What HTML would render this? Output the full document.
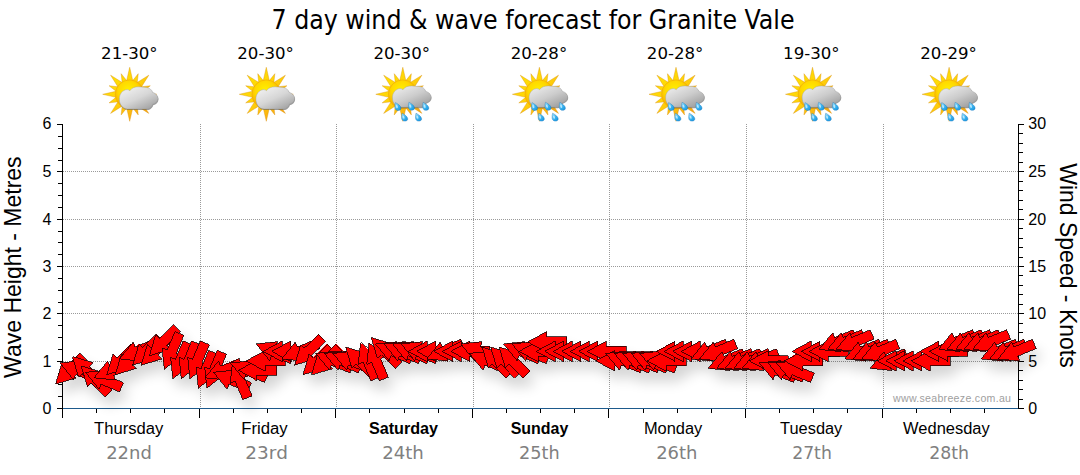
<!DOCTYPE html>
<html><head><meta charset="utf-8"><title>7 day wind &amp; wave forecast for Granite Vale</title>
<style>
html,body{margin:0;padding:0;background:#fff;}
body{width:1080px;height:475px;overflow:hidden;}
svg{display:block}
.ar{font-family:"Liberation Sans",Arial,sans-serif;}
.ta{font-family:"DejaVu Sans Condensed","DejaVu Sans","Liberation Sans",sans-serif;}
.dv{font-family:"DejaVu Sans","Liberation Sans",sans-serif;}
</style></head><body>
<svg width="1080" height="475" viewBox="0 0 1080 475">
<defs>
<filter id="sh" x="-5%" y="-50%" width="110%" height="250%"><feGaussianBlur in="SourceAlpha" stdDeviation="6.5"/><feOffset dx="5" dy="10"/><feComponentTransfer><feFuncA type="linear" slope="0.17"/></feComponentTransfer></filter>
<radialGradient id="sunG" cx="0.45" cy="0.38" r="0.68"><stop offset="0" stop-color="#fff200"/><stop offset="0.5" stop-color="#ffd800"/><stop offset="1" stop-color="#f49a00"/></radialGradient>
<linearGradient id="rayG" x1="0" y1="0" x2="1" y2="1"><stop offset="0" stop-color="#ffe800"/><stop offset="0.45" stop-color="#ffd208"/><stop offset="0.75" stop-color="#fbb010"/><stop offset="1" stop-color="#ef9010"/></linearGradient>
<linearGradient id="clG" x1="0.1" y1="0" x2="0.9" y2="1"><stop offset="0" stop-color="#f4f4f4"/><stop offset="0.5" stop-color="#d6d6d6"/><stop offset="1" stop-color="#9c9c9c"/></linearGradient>
<linearGradient id="clR" x1="0.1" y1="0" x2="0.9" y2="1"><stop offset="0" stop-color="#efefef"/><stop offset="0.5" stop-color="#cccccc"/><stop offset="1" stop-color="#989898"/></linearGradient>
<linearGradient id="drG" x1="0" y1="0" x2="1" y2="1"><stop offset="0" stop-color="#b8edff"/><stop offset="0.5" stop-color="#3cb6f2"/><stop offset="1" stop-color="#1691db"/></linearGradient>
<filter id="b1"><feGaussianBlur stdDeviation="0.6"/></filter>
</defs>
<rect width="1080" height="475" fill="#fff"/>
<text class="ta" x="271.5" y="29" font-size="26.4" textLength="523" lengthAdjust="spacingAndGlyphs" fill="#000">7 day wind &amp; wave forecast for Granite Vale</text>
<text class="dv" x="101.08" y="58.8" font-size="16.3" textLength="56.55" lengthAdjust="spacingAndGlyphs" fill="#000">21-30°</text>
<text class="dv" x="237.27" y="58.8" font-size="16.3" textLength="56.55" lengthAdjust="spacingAndGlyphs" fill="#000">20-30°</text>
<text class="dv" x="373.48" y="58.8" font-size="16.3" textLength="56.55" lengthAdjust="spacingAndGlyphs" fill="#000">20-30°</text>
<text class="dv" x="510.67" y="58.8" font-size="16.3" textLength="56.55" lengthAdjust="spacingAndGlyphs" fill="#000">20-28°</text>
<text class="dv" x="646.88" y="58.8" font-size="16.3" textLength="56.55" lengthAdjust="spacingAndGlyphs" fill="#000">20-28°</text>
<text class="dv" x="783.08" y="58.8" font-size="16.3" textLength="56.57" lengthAdjust="spacingAndGlyphs" fill="#000">19-30°</text>
<text class="dv" x="920.29" y="58.8" font-size="16.3" textLength="56.55" lengthAdjust="spacingAndGlyphs" fill="#000">20-29°</text>
<g shape-rendering="crispEdges">
<line x1="63" x2="1018" y1="361.5" y2="361.5" stroke="#9a9a9a" stroke-width="1" stroke-dasharray="1 1"/>
<line x1="63" x2="1018" y1="313.5" y2="313.5" stroke="#9a9a9a" stroke-width="1" stroke-dasharray="1 1"/>
<line x1="63" x2="1018" y1="266.5" y2="266.5" stroke="#9a9a9a" stroke-width="1" stroke-dasharray="1 1"/>
<line x1="63" x2="1018" y1="219.5" y2="219.5" stroke="#9a9a9a" stroke-width="1" stroke-dasharray="1 1"/>
<line x1="63" x2="1018" y1="171.5" y2="171.5" stroke="#9a9a9a" stroke-width="1" stroke-dasharray="1 1"/>
<line x1="200.5" x2="200.5" y1="124" y2="408" stroke="#9a9a9a" stroke-width="1" stroke-dasharray="1 1"/>
<line x1="336.5" x2="336.5" y1="124" y2="408" stroke="#9a9a9a" stroke-width="1" stroke-dasharray="1 1"/>
<line x1="473.5" x2="473.5" y1="124" y2="408" stroke="#9a9a9a" stroke-width="1" stroke-dasharray="1 1"/>
<line x1="609.5" x2="609.5" y1="124" y2="408" stroke="#9a9a9a" stroke-width="1" stroke-dasharray="1 1"/>
<line x1="746.5" x2="746.5" y1="124" y2="408" stroke="#9a9a9a" stroke-width="1" stroke-dasharray="1 1"/>
<line x1="883.5" x2="883.5" y1="124" y2="408" stroke="#9a9a9a" stroke-width="1" stroke-dasharray="1 1"/>
</g>
<g shape-rendering="crispEdges">
<rect x="62" y="408" width="957" height="1" fill="#1d5a8c"/>
<rect x="62" y="124" width="1" height="294" fill="#000"/>
<rect x="1018" y="124" width="1" height="285" fill="#000"/>
<rect x="57" y="408" width="5" height="1" fill="#000"/>
<rect x="1019" y="408" width="5" height="1" fill="#000"/>
<rect x="57" y="361" width="5" height="1" fill="#000"/>
<rect x="1019" y="361" width="5" height="1" fill="#000"/>
<rect x="57" y="313" width="5" height="1" fill="#000"/>
<rect x="1019" y="313" width="5" height="1" fill="#000"/>
<rect x="57" y="266" width="5" height="1" fill="#000"/>
<rect x="1019" y="266" width="5" height="1" fill="#000"/>
<rect x="57" y="219" width="5" height="1" fill="#000"/>
<rect x="1019" y="219" width="5" height="1" fill="#000"/>
<rect x="57" y="171" width="5" height="1" fill="#000"/>
<rect x="1019" y="171" width="5" height="1" fill="#000"/>
<rect x="57" y="124" width="5" height="1" fill="#000"/>
<rect x="1019" y="124" width="5" height="1" fill="#000"/>
<rect x="58" y="396" width="4" height="1" fill="#000"/>
<rect x="58" y="384" width="4" height="1" fill="#000"/>
<rect x="58" y="373" width="4" height="1" fill="#000"/>
<rect x="58" y="349" width="4" height="1" fill="#000"/>
<rect x="58" y="337" width="4" height="1" fill="#000"/>
<rect x="58" y="325" width="4" height="1" fill="#000"/>
<rect x="58" y="302" width="4" height="1" fill="#000"/>
<rect x="58" y="290" width="4" height="1" fill="#000"/>
<rect x="58" y="278" width="4" height="1" fill="#000"/>
<rect x="58" y="254" width="4" height="1" fill="#000"/>
<rect x="58" y="242" width="4" height="1" fill="#000"/>
<rect x="58" y="231" width="4" height="1" fill="#000"/>
<rect x="58" y="207" width="4" height="1" fill="#000"/>
<rect x="58" y="195" width="4" height="1" fill="#000"/>
<rect x="58" y="183" width="4" height="1" fill="#000"/>
<rect x="58" y="160" width="4" height="1" fill="#000"/>
<rect x="58" y="148" width="4" height="1" fill="#000"/>
<rect x="58" y="136" width="4" height="1" fill="#000"/>
<rect x="1019" y="399" width="4" height="1" fill="#000"/>
<rect x="1019" y="389" width="4" height="1" fill="#000"/>
<rect x="1019" y="380" width="4" height="1" fill="#000"/>
<rect x="1019" y="370" width="4" height="1" fill="#000"/>
<rect x="1019" y="351" width="4" height="1" fill="#000"/>
<rect x="1019" y="342" width="4" height="1" fill="#000"/>
<rect x="1019" y="332" width="4" height="1" fill="#000"/>
<rect x="1019" y="323" width="4" height="1" fill="#000"/>
<rect x="1019" y="304" width="4" height="1" fill="#000"/>
<rect x="1019" y="294" width="4" height="1" fill="#000"/>
<rect x="1019" y="285" width="4" height="1" fill="#000"/>
<rect x="1019" y="275" width="4" height="1" fill="#000"/>
<rect x="1019" y="257" width="4" height="1" fill="#000"/>
<rect x="1019" y="247" width="4" height="1" fill="#000"/>
<rect x="1019" y="238" width="4" height="1" fill="#000"/>
<rect x="1019" y="228" width="4" height="1" fill="#000"/>
<rect x="1019" y="209" width="4" height="1" fill="#000"/>
<rect x="1019" y="200" width="4" height="1" fill="#000"/>
<rect x="1019" y="190" width="4" height="1" fill="#000"/>
<rect x="1019" y="181" width="4" height="1" fill="#000"/>
<rect x="1019" y="162" width="4" height="1" fill="#000"/>
<rect x="1019" y="152" width="4" height="1" fill="#000"/>
<rect x="1019" y="143" width="4" height="1" fill="#000"/>
<rect x="1019" y="133" width="4" height="1" fill="#000"/>
<rect x="96" y="409" width="1" height="4" fill="#000"/>
<rect x="130" y="409" width="1" height="4" fill="#000"/>
<rect x="164" y="409" width="1" height="4" fill="#000"/>
<rect x="199" y="409" width="1" height="9" fill="#000"/>
<rect x="233" y="409" width="1" height="4" fill="#000"/>
<rect x="267" y="409" width="1" height="4" fill="#000"/>
<rect x="301" y="409" width="1" height="4" fill="#000"/>
<rect x="335" y="409" width="1" height="9" fill="#000"/>
<rect x="369" y="409" width="1" height="4" fill="#000"/>
<rect x="404" y="409" width="1" height="4" fill="#000"/>
<rect x="438" y="409" width="1" height="4" fill="#000"/>
<rect x="472" y="409" width="1" height="9" fill="#000"/>
<rect x="506" y="409" width="1" height="4" fill="#000"/>
<rect x="540" y="409" width="1" height="4" fill="#000"/>
<rect x="574" y="409" width="1" height="4" fill="#000"/>
<rect x="608" y="409" width="1" height="9" fill="#000"/>
<rect x="643" y="409" width="1" height="4" fill="#000"/>
<rect x="677" y="409" width="1" height="4" fill="#000"/>
<rect x="711" y="409" width="1" height="4" fill="#000"/>
<rect x="745" y="409" width="1" height="9" fill="#000"/>
<rect x="779" y="409" width="1" height="4" fill="#000"/>
<rect x="813" y="409" width="1" height="4" fill="#000"/>
<rect x="847" y="409" width="1" height="4" fill="#000"/>
<rect x="882" y="409" width="1" height="9" fill="#000"/>
<rect x="916" y="409" width="1" height="4" fill="#000"/>
<rect x="950" y="409" width="1" height="4" fill="#000"/>
<rect x="984" y="409" width="1" height="4" fill="#000"/>
</g>
<g filter="url(#sh)" fill="#000">
<polygon points="55.6,384.1 61.8,363.4 65.5,367.2 79.6,353.0 86.7,360.1 72.6,374.2 76.3,377.9"/>
<polygon points="59.9,362.9 81.4,360.7 79.4,365.5 97.8,373.2 94.0,382.4 75.5,374.8 73.5,379.6"/>
<polygon points="72.7,356.5 93.3,362.7 89.6,366.4 103.8,380.6 96.7,387.7 82.6,373.5 78.8,377.2"/>
<polygon points="81.2,366.0 101.9,372.2 98.2,375.9 112.3,390.1 105.2,397.1 91.1,383.0 87.4,386.7"/>
<polygon points="85.5,372.3 107.0,370.1 105.0,375.0 123.4,382.6 119.6,391.9 101.1,384.2 99.1,389.1"/>
<polygon points="94.0,377.8 107.6,361.1 109.7,365.9 128.1,358.3 132.0,367.5 113.5,375.1 115.5,380.0"/>
<polygon points="106.8,374.7 113.0,354.0 116.7,357.7 130.8,343.5 137.9,350.6 123.7,364.8 127.5,368.5"/>
<polygon points="115.3,374.7 121.5,354.0 125.2,357.7 139.3,343.5 146.4,350.6 132.3,364.8 136.0,368.5"/>
<polygon points="119.6,358.9 133.2,342.1 135.2,347.0 153.7,339.3 157.5,348.6 139.1,356.2 141.1,361.1"/>
<polygon points="132.4,365.2 138.5,344.5 142.3,348.2 156.4,334.1 163.5,341.1 149.3,355.3 153.0,359.0"/>
<polygon points="140.9,365.2 147.1,344.5 150.8,348.2 164.9,334.1 172.0,341.1 157.9,355.3 161.6,359.0"/>
<polygon points="149.4,355.7 155.6,335.0 159.3,338.7 173.5,324.6 180.5,331.7 166.4,345.8 170.1,349.5"/>
<polygon points="164.3,369.4 162.1,347.9 166.9,349.9 174.6,331.5 183.8,335.3 176.2,353.8 181.0,355.8"/>
<polygon points="172.8,378.9 170.6,357.4 175.5,359.4 183.1,340.9 192.4,344.8 184.7,363.2 189.5,365.2"/>
<polygon points="181.3,378.9 179.1,357.4 184.0,359.4 191.6,340.9 200.9,344.8 193.2,363.2 198.1,365.2"/>
<polygon points="189.9,378.9 187.7,357.4 192.5,359.4 200.2,340.9 209.4,344.8 201.8,363.2 206.6,365.2"/>
<polygon points="198.4,388.3 196.2,366.9 201.0,368.9 208.7,350.4 217.9,354.2 210.3,372.7 215.1,374.7"/>
<polygon points="206.9,388.3 204.7,366.9 209.6,368.9 217.2,350.4 226.5,354.2 218.8,372.7 223.7,374.7"/>
<polygon points="204.9,377.8 218.5,361.1 220.5,365.9 239.0,358.3 242.8,367.5 224.4,375.1 226.4,380.0"/>
<polygon points="213.4,372.3 234.9,370.1 232.9,375.0 251.4,382.6 247.6,391.9 229.1,384.2 227.1,389.1"/>
<polygon points="232.5,361.8 249.3,375.4 244.4,377.4 252.1,395.9 242.8,399.7 235.2,381.3 230.3,383.3"/>
<polygon points="230.5,362.9 252.0,360.7 250.0,365.5 268.4,373.2 264.6,382.4 246.1,374.8 244.1,379.6"/>
<polygon points="237.5,370.3 256.5,360.1 256.5,365.3 276.5,365.3 276.5,375.3 256.5,375.3 256.5,380.6"/>
<polygon points="246.1,360.9 265.1,350.6 265.1,355.9 285.1,355.9 285.1,365.9 265.1,365.9 265.1,371.1"/>
<polygon points="256.1,343.9 277.6,341.7 275.6,346.6 294.0,354.2 290.2,363.5 271.7,355.8 269.7,360.7"/>
<polygon points="263.1,351.4 282.1,341.1 282.1,346.4 302.1,346.4 302.1,356.4 282.1,356.4 282.1,361.6"/>
<polygon points="271.7,351.4 290.7,341.1 290.7,346.4 310.7,346.4 310.7,356.4 290.7,356.4 290.7,361.6"/>
<polygon points="281.7,358.9 295.3,342.1 297.3,347.0 315.8,339.3 319.6,348.6 301.1,356.2 303.2,361.1"/>
<polygon points="294.4,365.2 300.6,344.5 304.3,348.2 318.5,334.1 325.5,341.1 311.4,355.3 315.1,359.0"/>
<polygon points="303.0,374.7 309.1,354.0 312.9,357.7 327.0,343.5 334.1,350.6 319.9,364.8 323.6,368.5"/>
<polygon points="311.5,374.7 317.7,354.0 321.4,357.7 335.5,343.5 342.6,350.6 328.5,364.8 332.2,368.5"/>
<polygon points="315.8,353.4 337.3,351.2 335.3,356.1 353.7,363.7 349.9,372.9 331.4,365.3 329.4,370.1"/>
<polygon points="324.3,353.4 345.8,351.2 343.8,356.1 362.3,363.7 358.4,372.9 340.0,365.3 338.0,370.1"/>
<polygon points="332.9,353.4 354.3,351.2 352.3,356.1 370.8,363.7 367.0,372.9 348.5,365.3 346.5,370.1"/>
<polygon points="345.6,347.1 366.3,353.3 362.6,357.0 376.7,371.1 369.7,378.2 355.5,364.0 351.8,367.8"/>
<polygon points="360.5,342.8 377.2,356.5 372.4,358.5 380.0,377.0 370.8,380.8 363.1,362.3 358.3,364.3"/>
<polygon points="369.0,342.8 385.7,356.5 380.9,358.5 388.5,377.0 379.3,380.8 371.6,362.3 366.8,364.3"/>
<polygon points="371.2,337.6 391.9,343.8 388.2,347.5 402.3,361.7 395.2,368.7 381.1,354.6 377.4,358.3"/>
<polygon points="375.5,343.9 397.0,341.7 395.0,346.6 413.4,354.2 409.6,363.5 391.1,355.8 389.1,360.7"/>
<polygon points="384.0,343.9 405.5,341.7 403.5,346.6 422.0,354.2 418.2,363.5 399.7,355.8 397.7,360.7"/>
<polygon points="392.6,343.9 414.0,341.7 412.0,346.6 430.5,354.2 426.7,363.5 408.2,355.8 406.2,360.7"/>
<polygon points="401.1,343.9 422.6,341.7 420.6,346.6 439.0,354.2 435.2,363.5 416.7,355.8 414.7,360.7"/>
<polygon points="408.1,351.4 427.1,341.1 427.1,346.4 447.1,346.4 447.1,356.4 427.1,356.4 427.1,361.6"/>
<polygon points="416.7,351.4 435.7,341.1 435.7,346.4 455.7,346.4 455.7,356.4 435.7,356.4 435.7,361.6"/>
<polygon points="426.7,358.9 440.3,342.1 442.3,347.0 460.8,339.3 464.6,348.6 446.2,356.2 448.2,361.1"/>
<polygon points="433.7,351.4 452.7,341.1 452.7,346.4 472.7,346.4 472.7,356.4 452.7,356.4 452.7,361.6"/>
<polygon points="442.3,351.4 461.3,341.1 461.3,346.4 481.3,346.4 481.3,356.4 461.3,356.4 461.3,361.6"/>
<polygon points="450.8,351.4 469.8,341.1 469.8,346.4 489.8,346.4 489.8,356.4 469.8,356.4 469.8,361.6"/>
<polygon points="460.8,343.9 482.3,341.7 480.3,346.6 498.7,354.2 494.9,363.5 476.4,355.8 474.4,360.7"/>
<polygon points="469.3,353.4 490.8,351.2 488.8,356.1 507.3,363.7 503.5,372.9 485.0,365.3 483.0,370.1"/>
<polygon points="482.1,347.1 502.8,353.3 499.1,357.0 513.2,371.1 506.1,378.2 492.0,364.0 488.3,367.8"/>
<polygon points="490.6,347.1 511.3,353.3 507.6,357.0 521.7,371.1 514.7,378.2 500.5,364.0 496.8,367.8"/>
<polygon points="499.2,347.1 519.8,353.3 516.1,357.0 530.3,371.1 523.2,378.2 509.1,364.0 505.3,367.8"/>
<polygon points="503.5,343.9 524.9,341.7 522.9,346.6 541.4,354.2 537.6,363.5 519.1,355.8 517.1,360.7"/>
<polygon points="512.0,343.9 533.5,341.7 531.5,346.6 549.9,354.2 546.1,363.5 527.6,355.8 525.6,360.7"/>
<polygon points="519.0,351.4 538.0,341.1 538.0,346.4 558.0,346.4 558.0,356.4 538.0,356.4 538.0,361.6"/>
<polygon points="527.6,341.9 546.6,331.7 546.6,336.9 566.6,336.9 566.6,346.9 546.6,346.9 546.6,352.2"/>
<polygon points="536.1,351.4 555.1,341.1 555.1,346.4 575.1,346.4 575.1,356.4 555.1,356.4 555.1,361.6"/>
<polygon points="544.6,351.4 563.6,341.1 563.6,346.4 583.6,346.4 583.6,356.4 563.6,356.4 563.6,361.6"/>
<polygon points="553.1,351.4 572.1,341.1 572.1,346.4 592.1,346.4 592.1,356.4 572.1,356.4 572.1,361.6"/>
<polygon points="561.7,351.4 580.7,341.1 580.7,346.4 600.7,346.4 600.7,356.4 580.7,356.4 580.7,361.6"/>
<polygon points="570.2,351.4 589.2,341.1 589.2,346.4 609.2,346.4 609.2,356.4 589.2,356.4 589.2,361.6"/>
<polygon points="578.7,351.4 597.7,341.1 597.7,346.4 617.7,346.4 617.7,356.4 597.7,356.4 597.7,361.6"/>
<polygon points="587.3,351.4 606.3,341.1 606.3,346.4 626.3,346.4 626.3,356.4 606.3,356.4 606.3,361.6"/>
<polygon points="595.8,360.9 614.8,350.6 614.8,355.9 634.8,355.9 634.8,365.9 614.8,365.9 614.8,371.1"/>
<polygon points="605.8,353.4 627.3,351.2 625.3,356.1 643.8,363.7 639.9,372.9 621.5,365.3 619.4,370.1"/>
<polygon points="614.3,353.4 635.8,351.2 633.8,356.1 652.3,363.7 648.5,372.9 630.0,365.3 628.0,370.1"/>
<polygon points="622.9,353.4 644.4,351.2 642.3,356.1 660.8,363.7 657.0,372.9 638.5,365.3 636.5,370.1"/>
<polygon points="631.4,353.4 652.9,351.2 650.9,356.1 669.3,363.7 665.5,372.9 647.0,365.3 645.0,370.1"/>
<polygon points="639.9,353.4 661.4,351.2 659.4,356.1 677.9,363.7 674.1,372.9 655.6,365.3 653.6,370.1"/>
<polygon points="647.0,360.9 666.0,350.6 666.0,355.9 686.0,355.9 686.0,365.9 666.0,365.9 666.0,371.1"/>
<polygon points="655.5,351.4 674.5,341.1 674.5,346.4 694.5,346.4 694.5,356.4 674.5,356.4 674.5,361.6"/>
<polygon points="664.0,351.4 683.0,341.1 683.0,346.4 703.0,346.4 703.0,356.4 683.0,356.4 683.0,361.6"/>
<polygon points="672.6,351.4 691.6,341.1 691.6,346.4 711.6,346.4 711.6,356.4 691.6,356.4 691.6,361.6"/>
<polygon points="681.1,351.4 700.1,341.1 700.1,346.4 720.1,346.4 720.1,356.4 700.1,356.4 700.1,361.6"/>
<polygon points="691.1,358.9 704.7,342.1 706.8,347.0 725.2,339.3 729.1,348.6 710.6,356.2 712.6,361.1"/>
<polygon points="699.6,358.9 713.3,342.1 715.3,347.0 733.8,339.3 737.6,348.6 719.1,356.2 721.1,361.1"/>
<polygon points="708.2,368.3 721.8,351.6 723.8,356.4 742.3,348.8 746.1,358.0 727.6,365.7 729.7,370.5"/>
<polygon points="716.7,368.3 730.3,351.6 732.3,356.4 750.8,348.8 754.6,358.0 736.2,365.7 738.2,370.5"/>
<polygon points="725.2,368.3 738.9,351.6 740.9,356.4 759.4,348.8 763.2,358.0 744.7,365.7 746.7,370.5"/>
<polygon points="733.8,368.3 747.4,351.6 749.4,356.4 767.9,348.8 771.7,358.0 753.2,365.7 755.2,370.5"/>
<polygon points="742.3,368.3 755.9,351.6 757.9,356.4 776.4,348.8 780.2,358.0 761.8,365.7 763.8,370.5"/>
<polygon points="749.3,360.9 768.3,350.6 768.3,355.9 788.3,355.9 788.3,365.9 768.3,365.9 768.3,371.1"/>
<polygon points="759.4,362.9 780.8,360.7 778.8,365.5 797.3,373.2 793.5,382.4 775.0,374.8 773.0,379.6"/>
<polygon points="767.9,362.9 789.4,360.7 787.4,365.5 805.8,373.2 802.0,382.4 783.5,374.8 781.5,379.6"/>
<polygon points="776.4,362.9 797.9,360.7 795.9,365.5 814.4,373.2 810.5,382.4 792.1,374.8 790.0,379.6"/>
<polygon points="783.5,360.9 802.5,350.6 802.5,355.9 822.5,355.9 822.5,365.9 802.5,365.9 802.5,371.1"/>
<polygon points="792.0,351.4 811.0,341.1 811.0,346.4 831.0,346.4 831.0,356.4 811.0,356.4 811.0,361.6"/>
<polygon points="800.5,351.4 819.5,341.1 819.5,346.4 839.5,346.4 839.5,356.4 819.5,356.4 819.5,361.6"/>
<polygon points="809.0,351.4 828.0,341.1 828.0,346.4 848.0,346.4 848.0,356.4 828.0,356.4 828.0,361.6"/>
<polygon points="819.1,349.4 832.7,332.7 834.7,337.5 853.2,329.8 857.0,339.1 838.5,346.7 840.5,351.6"/>
<polygon points="827.6,349.4 841.2,332.7 843.2,337.5 861.7,329.8 865.5,339.1 847.1,346.7 849.1,351.6"/>
<polygon points="836.1,349.4 849.8,332.7 851.8,337.5 870.2,329.8 874.1,339.1 855.6,346.7 857.6,351.6"/>
<polygon points="844.7,358.9 858.3,342.1 860.3,347.0 878.8,339.3 882.6,348.6 864.1,356.2 866.1,361.1"/>
<polygon points="853.2,358.9 866.8,342.1 868.8,347.0 887.3,339.3 891.1,348.6 872.7,356.2 874.7,361.1"/>
<polygon points="861.7,358.9 875.3,342.1 877.4,347.0 895.8,339.3 899.7,348.6 881.2,356.2 883.2,361.1"/>
<polygon points="870.2,368.3 883.9,351.6 885.9,356.4 904.4,348.8 908.2,358.0 889.7,365.7 891.7,370.5"/>
<polygon points="877.3,360.9 896.3,350.6 896.3,355.9 916.3,355.9 916.3,365.9 896.3,365.9 896.3,371.1"/>
<polygon points="885.8,360.9 904.8,350.6 904.8,355.9 924.8,355.9 924.8,365.9 904.8,365.9 904.8,371.1"/>
<polygon points="894.3,360.9 913.3,350.6 913.3,355.9 933.3,355.9 933.3,365.9 913.3,365.9 913.3,371.1"/>
<polygon points="902.9,360.9 921.9,350.6 921.9,355.9 941.9,355.9 941.9,365.9 921.9,365.9 921.9,371.1"/>
<polygon points="911.4,360.9 930.4,350.6 930.4,355.9 950.4,355.9 950.4,365.9 930.4,365.9 930.4,371.1"/>
<polygon points="919.9,351.4 938.9,341.1 938.9,346.4 958.9,346.4 958.9,356.4 938.9,356.4 938.9,361.6"/>
<polygon points="928.5,351.4 947.5,341.1 947.5,346.4 967.5,346.4 967.5,356.4 947.5,356.4 947.5,361.6"/>
<polygon points="938.5,349.4 952.1,332.7 954.1,337.5 972.6,329.8 976.4,339.1 958.0,346.7 960.0,351.6"/>
<polygon points="947.0,349.4 960.6,332.7 962.7,337.5 981.1,329.8 985.0,339.1 966.5,346.7 968.5,351.6"/>
<polygon points="955.5,349.4 969.2,332.7 971.2,337.5 989.7,329.8 993.5,339.1 975.0,346.7 977.0,351.6"/>
<polygon points="964.1,349.4 977.7,332.7 979.7,337.5 998.2,329.8 1002.0,339.1 983.5,346.7 985.6,351.6"/>
<polygon points="972.6,349.4 986.2,332.7 988.2,337.5 1006.7,329.8 1010.5,339.1 992.1,346.7 994.1,351.6"/>
<polygon points="981.1,358.9 994.8,342.1 996.8,347.0 1015.3,339.3 1019.1,348.6 1000.6,356.2 1002.6,361.1"/>
<polygon points="989.7,358.9 1003.3,342.1 1005.3,347.0 1023.8,339.3 1027.6,348.6 1009.1,356.2 1011.1,361.1"/>
<polygon points="998.2,358.9 1011.8,342.1 1013.8,347.0 1032.3,339.3 1036.1,348.6 1017.7,356.2 1019.7,361.1"/>
</g>
<g fill="#ff0000" stroke="#140000" stroke-width="0.75" stroke-linejoin="miter" shape-rendering="crispEdges">
<polygon points="55.6,384.1 61.8,363.4 65.5,367.2 79.6,353.0 86.7,360.1 72.6,374.2 76.3,377.9"/>
<polygon points="59.9,362.9 81.4,360.7 79.4,365.5 97.8,373.2 94.0,382.4 75.5,374.8 73.5,379.6"/>
<polygon points="72.7,356.5 93.3,362.7 89.6,366.4 103.8,380.6 96.7,387.7 82.6,373.5 78.8,377.2"/>
<polygon points="81.2,366.0 101.9,372.2 98.2,375.9 112.3,390.1 105.2,397.1 91.1,383.0 87.4,386.7"/>
<polygon points="85.5,372.3 107.0,370.1 105.0,375.0 123.4,382.6 119.6,391.9 101.1,384.2 99.1,389.1"/>
<polygon points="94.0,377.8 107.6,361.1 109.7,365.9 128.1,358.3 132.0,367.5 113.5,375.1 115.5,380.0"/>
<polygon points="106.8,374.7 113.0,354.0 116.7,357.7 130.8,343.5 137.9,350.6 123.7,364.8 127.5,368.5"/>
<polygon points="115.3,374.7 121.5,354.0 125.2,357.7 139.3,343.5 146.4,350.6 132.3,364.8 136.0,368.5"/>
<polygon points="119.6,358.9 133.2,342.1 135.2,347.0 153.7,339.3 157.5,348.6 139.1,356.2 141.1,361.1"/>
<polygon points="132.4,365.2 138.5,344.5 142.3,348.2 156.4,334.1 163.5,341.1 149.3,355.3 153.0,359.0"/>
<polygon points="140.9,365.2 147.1,344.5 150.8,348.2 164.9,334.1 172.0,341.1 157.9,355.3 161.6,359.0"/>
<polygon points="149.4,355.7 155.6,335.0 159.3,338.7 173.5,324.6 180.5,331.7 166.4,345.8 170.1,349.5"/>
<polygon points="164.3,369.4 162.1,347.9 166.9,349.9 174.6,331.5 183.8,335.3 176.2,353.8 181.0,355.8"/>
<polygon points="172.8,378.9 170.6,357.4 175.5,359.4 183.1,340.9 192.4,344.8 184.7,363.2 189.5,365.2"/>
<polygon points="181.3,378.9 179.1,357.4 184.0,359.4 191.6,340.9 200.9,344.8 193.2,363.2 198.1,365.2"/>
<polygon points="189.9,378.9 187.7,357.4 192.5,359.4 200.2,340.9 209.4,344.8 201.8,363.2 206.6,365.2"/>
<polygon points="198.4,388.3 196.2,366.9 201.0,368.9 208.7,350.4 217.9,354.2 210.3,372.7 215.1,374.7"/>
<polygon points="206.9,388.3 204.7,366.9 209.6,368.9 217.2,350.4 226.5,354.2 218.8,372.7 223.7,374.7"/>
<polygon points="204.9,377.8 218.5,361.1 220.5,365.9 239.0,358.3 242.8,367.5 224.4,375.1 226.4,380.0"/>
<polygon points="213.4,372.3 234.9,370.1 232.9,375.0 251.4,382.6 247.6,391.9 229.1,384.2 227.1,389.1"/>
<polygon points="232.5,361.8 249.3,375.4 244.4,377.4 252.1,395.9 242.8,399.7 235.2,381.3 230.3,383.3"/>
<polygon points="230.5,362.9 252.0,360.7 250.0,365.5 268.4,373.2 264.6,382.4 246.1,374.8 244.1,379.6"/>
<polygon points="237.5,370.3 256.5,360.1 256.5,365.3 276.5,365.3 276.5,375.3 256.5,375.3 256.5,380.6"/>
<polygon points="246.1,360.9 265.1,350.6 265.1,355.9 285.1,355.9 285.1,365.9 265.1,365.9 265.1,371.1"/>
<polygon points="256.1,343.9 277.6,341.7 275.6,346.6 294.0,354.2 290.2,363.5 271.7,355.8 269.7,360.7"/>
<polygon points="263.1,351.4 282.1,341.1 282.1,346.4 302.1,346.4 302.1,356.4 282.1,356.4 282.1,361.6"/>
<polygon points="271.7,351.4 290.7,341.1 290.7,346.4 310.7,346.4 310.7,356.4 290.7,356.4 290.7,361.6"/>
<polygon points="281.7,358.9 295.3,342.1 297.3,347.0 315.8,339.3 319.6,348.6 301.1,356.2 303.2,361.1"/>
<polygon points="294.4,365.2 300.6,344.5 304.3,348.2 318.5,334.1 325.5,341.1 311.4,355.3 315.1,359.0"/>
<polygon points="303.0,374.7 309.1,354.0 312.9,357.7 327.0,343.5 334.1,350.6 319.9,364.8 323.6,368.5"/>
<polygon points="311.5,374.7 317.7,354.0 321.4,357.7 335.5,343.5 342.6,350.6 328.5,364.8 332.2,368.5"/>
<polygon points="315.8,353.4 337.3,351.2 335.3,356.1 353.7,363.7 349.9,372.9 331.4,365.3 329.4,370.1"/>
<polygon points="324.3,353.4 345.8,351.2 343.8,356.1 362.3,363.7 358.4,372.9 340.0,365.3 338.0,370.1"/>
<polygon points="332.9,353.4 354.3,351.2 352.3,356.1 370.8,363.7 367.0,372.9 348.5,365.3 346.5,370.1"/>
<polygon points="345.6,347.1 366.3,353.3 362.6,357.0 376.7,371.1 369.7,378.2 355.5,364.0 351.8,367.8"/>
<polygon points="360.5,342.8 377.2,356.5 372.4,358.5 380.0,377.0 370.8,380.8 363.1,362.3 358.3,364.3"/>
<polygon points="369.0,342.8 385.7,356.5 380.9,358.5 388.5,377.0 379.3,380.8 371.6,362.3 366.8,364.3"/>
<polygon points="371.2,337.6 391.9,343.8 388.2,347.5 402.3,361.7 395.2,368.7 381.1,354.6 377.4,358.3"/>
<polygon points="375.5,343.9 397.0,341.7 395.0,346.6 413.4,354.2 409.6,363.5 391.1,355.8 389.1,360.7"/>
<polygon points="384.0,343.9 405.5,341.7 403.5,346.6 422.0,354.2 418.2,363.5 399.7,355.8 397.7,360.7"/>
<polygon points="392.6,343.9 414.0,341.7 412.0,346.6 430.5,354.2 426.7,363.5 408.2,355.8 406.2,360.7"/>
<polygon points="401.1,343.9 422.6,341.7 420.6,346.6 439.0,354.2 435.2,363.5 416.7,355.8 414.7,360.7"/>
<polygon points="408.1,351.4 427.1,341.1 427.1,346.4 447.1,346.4 447.1,356.4 427.1,356.4 427.1,361.6"/>
<polygon points="416.7,351.4 435.7,341.1 435.7,346.4 455.7,346.4 455.7,356.4 435.7,356.4 435.7,361.6"/>
<polygon points="426.7,358.9 440.3,342.1 442.3,347.0 460.8,339.3 464.6,348.6 446.2,356.2 448.2,361.1"/>
<polygon points="433.7,351.4 452.7,341.1 452.7,346.4 472.7,346.4 472.7,356.4 452.7,356.4 452.7,361.6"/>
<polygon points="442.3,351.4 461.3,341.1 461.3,346.4 481.3,346.4 481.3,356.4 461.3,356.4 461.3,361.6"/>
<polygon points="450.8,351.4 469.8,341.1 469.8,346.4 489.8,346.4 489.8,356.4 469.8,356.4 469.8,361.6"/>
<polygon points="460.8,343.9 482.3,341.7 480.3,346.6 498.7,354.2 494.9,363.5 476.4,355.8 474.4,360.7"/>
<polygon points="469.3,353.4 490.8,351.2 488.8,356.1 507.3,363.7 503.5,372.9 485.0,365.3 483.0,370.1"/>
<polygon points="482.1,347.1 502.8,353.3 499.1,357.0 513.2,371.1 506.1,378.2 492.0,364.0 488.3,367.8"/>
<polygon points="490.6,347.1 511.3,353.3 507.6,357.0 521.7,371.1 514.7,378.2 500.5,364.0 496.8,367.8"/>
<polygon points="499.2,347.1 519.8,353.3 516.1,357.0 530.3,371.1 523.2,378.2 509.1,364.0 505.3,367.8"/>
<polygon points="503.5,343.9 524.9,341.7 522.9,346.6 541.4,354.2 537.6,363.5 519.1,355.8 517.1,360.7"/>
<polygon points="512.0,343.9 533.5,341.7 531.5,346.6 549.9,354.2 546.1,363.5 527.6,355.8 525.6,360.7"/>
<polygon points="519.0,351.4 538.0,341.1 538.0,346.4 558.0,346.4 558.0,356.4 538.0,356.4 538.0,361.6"/>
<polygon points="527.6,341.9 546.6,331.7 546.6,336.9 566.6,336.9 566.6,346.9 546.6,346.9 546.6,352.2"/>
<polygon points="536.1,351.4 555.1,341.1 555.1,346.4 575.1,346.4 575.1,356.4 555.1,356.4 555.1,361.6"/>
<polygon points="544.6,351.4 563.6,341.1 563.6,346.4 583.6,346.4 583.6,356.4 563.6,356.4 563.6,361.6"/>
<polygon points="553.1,351.4 572.1,341.1 572.1,346.4 592.1,346.4 592.1,356.4 572.1,356.4 572.1,361.6"/>
<polygon points="561.7,351.4 580.7,341.1 580.7,346.4 600.7,346.4 600.7,356.4 580.7,356.4 580.7,361.6"/>
<polygon points="570.2,351.4 589.2,341.1 589.2,346.4 609.2,346.4 609.2,356.4 589.2,356.4 589.2,361.6"/>
<polygon points="578.7,351.4 597.7,341.1 597.7,346.4 617.7,346.4 617.7,356.4 597.7,356.4 597.7,361.6"/>
<polygon points="587.3,351.4 606.3,341.1 606.3,346.4 626.3,346.4 626.3,356.4 606.3,356.4 606.3,361.6"/>
<polygon points="595.8,360.9 614.8,350.6 614.8,355.9 634.8,355.9 634.8,365.9 614.8,365.9 614.8,371.1"/>
<polygon points="605.8,353.4 627.3,351.2 625.3,356.1 643.8,363.7 639.9,372.9 621.5,365.3 619.4,370.1"/>
<polygon points="614.3,353.4 635.8,351.2 633.8,356.1 652.3,363.7 648.5,372.9 630.0,365.3 628.0,370.1"/>
<polygon points="622.9,353.4 644.4,351.2 642.3,356.1 660.8,363.7 657.0,372.9 638.5,365.3 636.5,370.1"/>
<polygon points="631.4,353.4 652.9,351.2 650.9,356.1 669.3,363.7 665.5,372.9 647.0,365.3 645.0,370.1"/>
<polygon points="639.9,353.4 661.4,351.2 659.4,356.1 677.9,363.7 674.1,372.9 655.6,365.3 653.6,370.1"/>
<polygon points="647.0,360.9 666.0,350.6 666.0,355.9 686.0,355.9 686.0,365.9 666.0,365.9 666.0,371.1"/>
<polygon points="655.5,351.4 674.5,341.1 674.5,346.4 694.5,346.4 694.5,356.4 674.5,356.4 674.5,361.6"/>
<polygon points="664.0,351.4 683.0,341.1 683.0,346.4 703.0,346.4 703.0,356.4 683.0,356.4 683.0,361.6"/>
<polygon points="672.6,351.4 691.6,341.1 691.6,346.4 711.6,346.4 711.6,356.4 691.6,356.4 691.6,361.6"/>
<polygon points="681.1,351.4 700.1,341.1 700.1,346.4 720.1,346.4 720.1,356.4 700.1,356.4 700.1,361.6"/>
<polygon points="691.1,358.9 704.7,342.1 706.8,347.0 725.2,339.3 729.1,348.6 710.6,356.2 712.6,361.1"/>
<polygon points="699.6,358.9 713.3,342.1 715.3,347.0 733.8,339.3 737.6,348.6 719.1,356.2 721.1,361.1"/>
<polygon points="708.2,368.3 721.8,351.6 723.8,356.4 742.3,348.8 746.1,358.0 727.6,365.7 729.7,370.5"/>
<polygon points="716.7,368.3 730.3,351.6 732.3,356.4 750.8,348.8 754.6,358.0 736.2,365.7 738.2,370.5"/>
<polygon points="725.2,368.3 738.9,351.6 740.9,356.4 759.4,348.8 763.2,358.0 744.7,365.7 746.7,370.5"/>
<polygon points="733.8,368.3 747.4,351.6 749.4,356.4 767.9,348.8 771.7,358.0 753.2,365.7 755.2,370.5"/>
<polygon points="742.3,368.3 755.9,351.6 757.9,356.4 776.4,348.8 780.2,358.0 761.8,365.7 763.8,370.5"/>
<polygon points="749.3,360.9 768.3,350.6 768.3,355.9 788.3,355.9 788.3,365.9 768.3,365.9 768.3,371.1"/>
<polygon points="759.4,362.9 780.8,360.7 778.8,365.5 797.3,373.2 793.5,382.4 775.0,374.8 773.0,379.6"/>
<polygon points="767.9,362.9 789.4,360.7 787.4,365.5 805.8,373.2 802.0,382.4 783.5,374.8 781.5,379.6"/>
<polygon points="776.4,362.9 797.9,360.7 795.9,365.5 814.4,373.2 810.5,382.4 792.1,374.8 790.0,379.6"/>
<polygon points="783.5,360.9 802.5,350.6 802.5,355.9 822.5,355.9 822.5,365.9 802.5,365.9 802.5,371.1"/>
<polygon points="792.0,351.4 811.0,341.1 811.0,346.4 831.0,346.4 831.0,356.4 811.0,356.4 811.0,361.6"/>
<polygon points="800.5,351.4 819.5,341.1 819.5,346.4 839.5,346.4 839.5,356.4 819.5,356.4 819.5,361.6"/>
<polygon points="809.0,351.4 828.0,341.1 828.0,346.4 848.0,346.4 848.0,356.4 828.0,356.4 828.0,361.6"/>
<polygon points="819.1,349.4 832.7,332.7 834.7,337.5 853.2,329.8 857.0,339.1 838.5,346.7 840.5,351.6"/>
<polygon points="827.6,349.4 841.2,332.7 843.2,337.5 861.7,329.8 865.5,339.1 847.1,346.7 849.1,351.6"/>
<polygon points="836.1,349.4 849.8,332.7 851.8,337.5 870.2,329.8 874.1,339.1 855.6,346.7 857.6,351.6"/>
<polygon points="844.7,358.9 858.3,342.1 860.3,347.0 878.8,339.3 882.6,348.6 864.1,356.2 866.1,361.1"/>
<polygon points="853.2,358.9 866.8,342.1 868.8,347.0 887.3,339.3 891.1,348.6 872.7,356.2 874.7,361.1"/>
<polygon points="861.7,358.9 875.3,342.1 877.4,347.0 895.8,339.3 899.7,348.6 881.2,356.2 883.2,361.1"/>
<polygon points="870.2,368.3 883.9,351.6 885.9,356.4 904.4,348.8 908.2,358.0 889.7,365.7 891.7,370.5"/>
<polygon points="877.3,360.9 896.3,350.6 896.3,355.9 916.3,355.9 916.3,365.9 896.3,365.9 896.3,371.1"/>
<polygon points="885.8,360.9 904.8,350.6 904.8,355.9 924.8,355.9 924.8,365.9 904.8,365.9 904.8,371.1"/>
<polygon points="894.3,360.9 913.3,350.6 913.3,355.9 933.3,355.9 933.3,365.9 913.3,365.9 913.3,371.1"/>
<polygon points="902.9,360.9 921.9,350.6 921.9,355.9 941.9,355.9 941.9,365.9 921.9,365.9 921.9,371.1"/>
<polygon points="911.4,360.9 930.4,350.6 930.4,355.9 950.4,355.9 950.4,365.9 930.4,365.9 930.4,371.1"/>
<polygon points="919.9,351.4 938.9,341.1 938.9,346.4 958.9,346.4 958.9,356.4 938.9,356.4 938.9,361.6"/>
<polygon points="928.5,351.4 947.5,341.1 947.5,346.4 967.5,346.4 967.5,356.4 947.5,356.4 947.5,361.6"/>
<polygon points="938.5,349.4 952.1,332.7 954.1,337.5 972.6,329.8 976.4,339.1 958.0,346.7 960.0,351.6"/>
<polygon points="947.0,349.4 960.6,332.7 962.7,337.5 981.1,329.8 985.0,339.1 966.5,346.7 968.5,351.6"/>
<polygon points="955.5,349.4 969.2,332.7 971.2,337.5 989.7,329.8 993.5,339.1 975.0,346.7 977.0,351.6"/>
<polygon points="964.1,349.4 977.7,332.7 979.7,337.5 998.2,329.8 1002.0,339.1 983.5,346.7 985.6,351.6"/>
<polygon points="972.6,349.4 986.2,332.7 988.2,337.5 1006.7,329.8 1010.5,339.1 992.1,346.7 994.1,351.6"/>
<polygon points="981.1,358.9 994.8,342.1 996.8,347.0 1015.3,339.3 1019.1,348.6 1000.6,356.2 1002.6,361.1"/>
<polygon points="989.7,358.9 1003.3,342.1 1005.3,347.0 1023.8,339.3 1027.6,348.6 1009.1,356.2 1011.1,361.1"/>
<polygon points="998.2,358.9 1011.8,342.1 1013.8,347.0 1032.3,339.3 1036.1,348.6 1017.7,356.2 1019.7,361.1"/>
</g>
<text class="ar" x="51.3" y="414.2" font-size="16" text-anchor="end" fill="#000">0</text>
<text class="ar" x="1028.3" y="414.2" font-size="16" fill="#000">0</text>
<text class="ar" x="51.3" y="367.2" font-size="16" text-anchor="end" fill="#000">1</text>
<text class="ar" x="1028.3" y="367.2" font-size="16" fill="#000">5</text>
<text class="ar" x="51.3" y="319.2" font-size="16" text-anchor="end" fill="#000">2</text>
<text class="ar" x="1028.3" y="319.2" font-size="16" fill="#000">10</text>
<text class="ar" x="51.3" y="272.2" font-size="16" text-anchor="end" fill="#000">3</text>
<text class="ar" x="1028.3" y="272.2" font-size="16" fill="#000">15</text>
<text class="ar" x="51.3" y="225.2" font-size="16" text-anchor="end" fill="#000">4</text>
<text class="ar" x="1028.3" y="225.2" font-size="16" fill="#000">20</text>
<text class="ar" x="51.3" y="177.2" font-size="16" text-anchor="end" fill="#000">5</text>
<text class="ar" x="1028.3" y="177.2" font-size="16" fill="#000">25</text>
<text class="ar" x="51.3" y="129.4" font-size="16" text-anchor="end" fill="#000">6</text>
<text class="ar" x="1028.3" y="129.4" font-size="16" fill="#000">30</text>
<text class="ar" transform="translate(20.9,377.9) rotate(-90)" font-size="23.7" textLength="221.5" lengthAdjust="spacingAndGlyphs" fill="#000">Wave Height - Metres</text>
<text class="ar" transform="translate(1059.5,163.2) rotate(90)" font-size="23.7" textLength="204.5" lengthAdjust="spacingAndGlyphs" fill="#000">Wind Speed - Knots</text>
<text class="ar" x="94.10" y="434.4" font-size="16" textLength="69.20" lengthAdjust="spacingAndGlyphs" fill="#000">Thursday</text>
<text class="dv" x="106.17" y="458.5" font-size="17.6" textLength="45.64" lengthAdjust="spacingAndGlyphs" fill="#808080">22nd</text>
<text class="ar" x="241.28" y="434.4" font-size="16" textLength="46.43" lengthAdjust="spacingAndGlyphs" fill="#000">Friday</text>
<text class="dv" x="245.35" y="458.5" font-size="17.6" textLength="42.52" lengthAdjust="spacingAndGlyphs" fill="#808080">23rd</text>
<text class="ar" x="368.90" y="434.4" font-size="16" textLength="69.20" lengthAdjust="spacingAndGlyphs" font-weight="bold" fill="#000">Saturday</text>
<text class="dv" x="382.16" y="458.5" font-size="17.6" textLength="41.69" lengthAdjust="spacingAndGlyphs" fill="#808080">24th</text>
<text class="ar" x="510.70" y="434.4" font-size="16" textLength="57.61" lengthAdjust="spacingAndGlyphs" font-weight="bold" fill="#000">Sunday</text>
<text class="dv" x="519.00" y="458.5" font-size="17.6" textLength="40.63" lengthAdjust="spacingAndGlyphs" fill="#808080">25th</text>
<text class="ar" x="643.90" y="434.4" font-size="16" textLength="58.40" lengthAdjust="spacingAndGlyphs" fill="#000">Monday</text>
<text class="dv" x="656.17" y="458.5" font-size="17.6" textLength="41.26" lengthAdjust="spacingAndGlyphs" fill="#808080">26th</text>
<text class="ar" x="780.09" y="434.4" font-size="16" textLength="62.21" lengthAdjust="spacingAndGlyphs" fill="#000">Tuesday</text>
<text class="dv" x="792.19" y="458.5" font-size="17.6" textLength="39.62" lengthAdjust="spacingAndGlyphs" fill="#808080">27th</text>
<text class="ar" x="903.10" y="434.4" font-size="16" textLength="86.60" lengthAdjust="spacingAndGlyphs" fill="#000">Wednesday</text>
<text class="dv" x="929.19" y="458.5" font-size="17.6" textLength="39.82" lengthAdjust="spacingAndGlyphs" fill="#808080">28th</text>
<text class="ar" x="893" y="402" font-size="10.6" fill="#a0a0a0" textLength="118" lengthAdjust="spacing">www.seabreeze.com.au</text>
<g transform="translate(129.7,94.3)"><path d="M3.30,-12.60L0.00,-27.00L-3.30,-12.60ZM7.41,-10.57L8.53,-20.60L2.23,-12.71ZM11.24,-6.58L19.09,-19.09L6.58,-11.24ZM12.71,-2.23L20.60,-8.53L10.57,-7.41ZM12.60,3.30L27.00,0.00L12.60,-3.30ZM10.57,7.41L20.60,8.53L12.71,2.23ZM6.58,11.24L19.09,19.09L11.24,6.58ZM2.23,12.71L8.53,20.60L7.41,10.57ZM-3.30,12.60L0.00,27.00L3.30,12.60ZM-7.41,10.57L-8.53,20.60L-2.23,12.71ZM-11.24,6.58L-19.09,19.09L-6.58,11.24ZM-12.71,2.23L-20.60,8.53L-10.57,7.41ZM-12.60,-3.30L-27.00,0.00L-12.60,3.30ZM-10.57,-7.41L-20.60,-8.53L-12.71,-2.23ZM-6.58,-11.24L-19.09,-19.09L-11.24,-6.58ZM-2.23,-12.71L-8.53,-20.60L-7.41,-10.57Z" fill="url(#rayG)" stroke="#d8900c" stroke-width="0.4" stroke-linejoin="round"/><circle cx="0" cy="0" r="14.4" fill="url(#sunG)" stroke="#eda30c" stroke-width="0.5"/><g transform="translate(0,0) scale(1,1)"><path d="M-10.4,5C-10.6,0 -7,-4.5 -2.7,-4.7C-1.5,-4.7 -0.5,-4.2 0.2,-3.6C2,-6.5 5.5,-7.6 9,-7.5L16.5,-6.9C19.5,-6.6 22,-4.8 22.9,-2.0C26,-1 28.4,1.5 28.3,4.2C28.2,7 26,9.2 23,10C22.5,12.5 20,14.8 17,14.8L-2,14.8C-7,14.8 -10.4,10 -10.4,5Z" transform="translate(0.5,1.0)" fill="#4a4a4a" opacity="0.55" filter="url(#b1)"/><path d="M-10.4,5C-10.6,0 -7,-4.5 -2.7,-4.7C-1.5,-4.7 -0.5,-4.2 0.2,-3.6C2,-6.5 5.5,-7.6 9,-7.5L16.5,-6.9C19.5,-6.6 22,-4.8 22.9,-2.0C26,-1 28.4,1.5 28.3,4.2C28.2,7 26,9.2 23,10C22.5,12.5 20,14.8 17,14.8L-2,14.8C-7,14.8 -10.4,10 -10.4,5Z" fill="url(#clG)" stroke="#9a9a9a" stroke-width="0.4"/></g></g>
<g transform="translate(266.3,94.3)"><path d="M3.30,-12.60L0.00,-27.00L-3.30,-12.60ZM7.41,-10.57L8.53,-20.60L2.23,-12.71ZM11.24,-6.58L19.09,-19.09L6.58,-11.24ZM12.71,-2.23L20.60,-8.53L10.57,-7.41ZM12.60,3.30L27.00,0.00L12.60,-3.30ZM10.57,7.41L20.60,8.53L12.71,2.23ZM6.58,11.24L19.09,19.09L11.24,6.58ZM2.23,12.71L8.53,20.60L7.41,10.57ZM-3.30,12.60L0.00,27.00L3.30,12.60ZM-7.41,10.57L-8.53,20.60L-2.23,12.71ZM-11.24,6.58L-19.09,19.09L-6.58,11.24ZM-12.71,2.23L-20.60,8.53L-10.57,7.41ZM-12.60,-3.30L-27.00,0.00L-12.60,3.30ZM-10.57,-7.41L-20.60,-8.53L-12.71,-2.23ZM-6.58,-11.24L-19.09,-19.09L-11.24,-6.58ZM-2.23,-12.71L-8.53,-20.60L-7.41,-10.57Z" fill="url(#rayG)" stroke="#d8900c" stroke-width="0.4" stroke-linejoin="round"/><circle cx="0" cy="0" r="14.4" fill="url(#sunG)" stroke="#eda30c" stroke-width="0.5"/><g transform="translate(0,0) scale(1,1)"><path d="M-10.4,5C-10.6,0 -7,-4.5 -2.7,-4.7C-1.5,-4.7 -0.5,-4.2 0.2,-3.6C2,-6.5 5.5,-7.6 9,-7.5L16.5,-6.9C19.5,-6.6 22,-4.8 22.9,-2.0C26,-1 28.4,1.5 28.3,4.2C28.2,7 26,9.2 23,10C22.5,12.5 20,14.8 17,14.8L-2,14.8C-7,14.8 -10.4,10 -10.4,5Z" transform="translate(0.5,1.0)" fill="#4a4a4a" opacity="0.55" filter="url(#b1)"/><path d="M-10.4,5C-10.6,0 -7,-4.5 -2.7,-4.7C-1.5,-4.7 -0.5,-4.2 0.2,-3.6C2,-6.5 5.5,-7.6 9,-7.5L16.5,-6.9C19.5,-6.6 22,-4.8 22.9,-2.0C26,-1 28.4,1.5 28.3,4.2C28.2,7 26,9.2 23,10C22.5,12.5 20,14.8 17,14.8L-2,14.8C-7,14.8 -10.4,10 -10.4,5Z" fill="url(#clG)" stroke="#9a9a9a" stroke-width="0.4"/></g></g>
<g transform="translate(402.8,94.3)"><path d="M3.30,-12.60L0.00,-27.00L-3.30,-12.60ZM7.41,-10.57L8.53,-20.60L2.23,-12.71ZM11.24,-6.58L19.09,-19.09L6.58,-11.24ZM12.71,-2.23L20.60,-8.53L10.57,-7.41ZM12.60,3.30L27.00,0.00L12.60,-3.30ZM10.57,7.41L20.60,8.53L12.71,2.23ZM6.58,11.24L19.09,19.09L11.24,6.58ZM2.23,12.71L8.53,20.60L7.41,10.57ZM-3.30,12.60L0.00,27.00L3.30,12.60ZM-7.41,10.57L-8.53,20.60L-2.23,12.71ZM-11.24,6.58L-19.09,19.09L-6.58,11.24ZM-12.71,2.23L-20.60,8.53L-10.57,7.41ZM-12.60,-3.30L-27.00,0.00L-12.60,3.30ZM-10.57,-7.41L-20.60,-8.53L-12.71,-2.23ZM-6.58,-11.24L-19.09,-19.09L-11.24,-6.58ZM-2.23,-12.71L-8.53,-20.60L-7.41,-10.57Z" fill="url(#rayG)" stroke="#d8900c" stroke-width="0.4" stroke-linejoin="round"/><circle cx="0" cy="0" r="14.4" fill="url(#sunG)" stroke="#eda30c" stroke-width="0.5"/><g transform="translate(0,-1.2) scale(1,0.96)"><path d="M-10.4,5C-10.6,0 -7,-4.5 -2.7,-4.7C-1.5,-4.7 -0.5,-4.2 0.2,-3.6C2,-6.5 5.5,-7.6 9,-7.5L16.5,-6.9C19.5,-6.6 22,-4.8 22.9,-2.0C26,-1 28.4,1.5 28.3,4.2C28.2,7 26,9.2 23,10C22.5,12.5 20,14.8 17,14.8L-2,14.8C-7,14.8 -10.4,10 -10.4,5Z" transform="translate(0.5,1.0)" fill="#4a4a4a" opacity="0.55" filter="url(#b1)"/><path d="M-10.4,5C-10.6,0 -7,-4.5 -2.7,-4.7C-1.5,-4.7 -0.5,-4.2 0.2,-3.6C2,-6.5 5.5,-7.6 9,-7.5L16.5,-6.9C19.5,-6.6 22,-4.8 22.9,-2.0C26,-1 28.4,1.5 28.3,4.2C28.2,7 26,9.2 23,10C22.5,12.5 20,14.8 17,14.8L-2,14.8C-7,14.8 -10.4,10 -10.4,5Z" fill="url(#clR)" stroke="#9a9a9a" stroke-width="0.4"/></g><g transform="translate(-4.8,12.2)"><path d="M-2.6,-3.9C-0.5,-2.8 2.9,-0.6 3.0,1.6C3.1,3.4 1.6,4.0 0.2,4.0C-1.6,4.0 -3.0,2.8 -3.1,0.9C-3.2,-0.8 -2.9,-2.6 -2.6,-3.9Z" fill="url(#drG)" stroke="#1270b8" stroke-width="0.4"/><ellipse cx="-1.1" cy="-0.3" rx="0.9" ry="1.6" fill="#d9f3ff" opacity="0.75" transform="rotate(-20)"/></g><g transform="translate(8.7,11.9)"><path d="M-2.6,-3.9C-0.5,-2.8 2.9,-0.6 3.0,1.6C3.1,3.4 1.6,4.0 0.2,4.0C-1.6,4.0 -3.0,2.8 -3.1,0.9C-3.2,-0.8 -2.9,-2.6 -2.6,-3.9Z" fill="url(#drG)" stroke="#1270b8" stroke-width="0.4"/><ellipse cx="-1.1" cy="-0.3" rx="0.9" ry="1.6" fill="#d9f3ff" opacity="0.75" transform="rotate(-20)"/></g><g transform="translate(23.0,12.0)"><path d="M-2.6,-3.9C-0.5,-2.8 2.9,-0.6 3.0,1.6C3.1,3.4 1.6,4.0 0.2,4.0C-1.6,4.0 -3.0,2.8 -3.1,0.9C-3.2,-0.8 -2.9,-2.6 -2.6,-3.9Z" fill="url(#drG)" stroke="#1270b8" stroke-width="0.4"/><ellipse cx="-1.1" cy="-0.3" rx="0.9" ry="1.6" fill="#d9f3ff" opacity="0.75" transform="rotate(-20)"/></g><g transform="translate(1.9,22.8)"><path d="M-2.6,-3.9C-0.5,-2.8 2.9,-0.6 3.0,1.6C3.1,3.4 1.6,4.0 0.2,4.0C-1.6,4.0 -3.0,2.8 -3.1,0.9C-3.2,-0.8 -2.9,-2.6 -2.6,-3.9Z" fill="url(#drG)" stroke="#1270b8" stroke-width="0.4"/><ellipse cx="-1.1" cy="-0.3" rx="0.9" ry="1.6" fill="#d9f3ff" opacity="0.75" transform="rotate(-20)"/></g><g transform="translate(15.8,22.8)"><path d="M-2.6,-3.9C-0.5,-2.8 2.9,-0.6 3.0,1.6C3.1,3.4 1.6,4.0 0.2,4.0C-1.6,4.0 -3.0,2.8 -3.1,0.9C-3.2,-0.8 -2.9,-2.6 -2.6,-3.9Z" fill="url(#drG)" stroke="#1270b8" stroke-width="0.4"/><ellipse cx="-1.1" cy="-0.3" rx="0.9" ry="1.6" fill="#d9f3ff" opacity="0.75" transform="rotate(-20)"/></g></g>
<g transform="translate(539.4,94.3)"><path d="M3.30,-12.60L0.00,-27.00L-3.30,-12.60ZM7.41,-10.57L8.53,-20.60L2.23,-12.71ZM11.24,-6.58L19.09,-19.09L6.58,-11.24ZM12.71,-2.23L20.60,-8.53L10.57,-7.41ZM12.60,3.30L27.00,0.00L12.60,-3.30ZM10.57,7.41L20.60,8.53L12.71,2.23ZM6.58,11.24L19.09,19.09L11.24,6.58ZM2.23,12.71L8.53,20.60L7.41,10.57ZM-3.30,12.60L0.00,27.00L3.30,12.60ZM-7.41,10.57L-8.53,20.60L-2.23,12.71ZM-11.24,6.58L-19.09,19.09L-6.58,11.24ZM-12.71,2.23L-20.60,8.53L-10.57,7.41ZM-12.60,-3.30L-27.00,0.00L-12.60,3.30ZM-10.57,-7.41L-20.60,-8.53L-12.71,-2.23ZM-6.58,-11.24L-19.09,-19.09L-11.24,-6.58ZM-2.23,-12.71L-8.53,-20.60L-7.41,-10.57Z" fill="url(#rayG)" stroke="#d8900c" stroke-width="0.4" stroke-linejoin="round"/><circle cx="0" cy="0" r="14.4" fill="url(#sunG)" stroke="#eda30c" stroke-width="0.5"/><g transform="translate(0,-1.2) scale(1,0.96)"><path d="M-10.4,5C-10.6,0 -7,-4.5 -2.7,-4.7C-1.5,-4.7 -0.5,-4.2 0.2,-3.6C2,-6.5 5.5,-7.6 9,-7.5L16.5,-6.9C19.5,-6.6 22,-4.8 22.9,-2.0C26,-1 28.4,1.5 28.3,4.2C28.2,7 26,9.2 23,10C22.5,12.5 20,14.8 17,14.8L-2,14.8C-7,14.8 -10.4,10 -10.4,5Z" transform="translate(0.5,1.0)" fill="#4a4a4a" opacity="0.55" filter="url(#b1)"/><path d="M-10.4,5C-10.6,0 -7,-4.5 -2.7,-4.7C-1.5,-4.7 -0.5,-4.2 0.2,-3.6C2,-6.5 5.5,-7.6 9,-7.5L16.5,-6.9C19.5,-6.6 22,-4.8 22.9,-2.0C26,-1 28.4,1.5 28.3,4.2C28.2,7 26,9.2 23,10C22.5,12.5 20,14.8 17,14.8L-2,14.8C-7,14.8 -10.4,10 -10.4,5Z" fill="url(#clR)" stroke="#9a9a9a" stroke-width="0.4"/></g><g transform="translate(-4.8,12.2)"><path d="M-2.6,-3.9C-0.5,-2.8 2.9,-0.6 3.0,1.6C3.1,3.4 1.6,4.0 0.2,4.0C-1.6,4.0 -3.0,2.8 -3.1,0.9C-3.2,-0.8 -2.9,-2.6 -2.6,-3.9Z" fill="url(#drG)" stroke="#1270b8" stroke-width="0.4"/><ellipse cx="-1.1" cy="-0.3" rx="0.9" ry="1.6" fill="#d9f3ff" opacity="0.75" transform="rotate(-20)"/></g><g transform="translate(8.7,11.9)"><path d="M-2.6,-3.9C-0.5,-2.8 2.9,-0.6 3.0,1.6C3.1,3.4 1.6,4.0 0.2,4.0C-1.6,4.0 -3.0,2.8 -3.1,0.9C-3.2,-0.8 -2.9,-2.6 -2.6,-3.9Z" fill="url(#drG)" stroke="#1270b8" stroke-width="0.4"/><ellipse cx="-1.1" cy="-0.3" rx="0.9" ry="1.6" fill="#d9f3ff" opacity="0.75" transform="rotate(-20)"/></g><g transform="translate(23.0,12.0)"><path d="M-2.6,-3.9C-0.5,-2.8 2.9,-0.6 3.0,1.6C3.1,3.4 1.6,4.0 0.2,4.0C-1.6,4.0 -3.0,2.8 -3.1,0.9C-3.2,-0.8 -2.9,-2.6 -2.6,-3.9Z" fill="url(#drG)" stroke="#1270b8" stroke-width="0.4"/><ellipse cx="-1.1" cy="-0.3" rx="0.9" ry="1.6" fill="#d9f3ff" opacity="0.75" transform="rotate(-20)"/></g><g transform="translate(1.9,22.8)"><path d="M-2.6,-3.9C-0.5,-2.8 2.9,-0.6 3.0,1.6C3.1,3.4 1.6,4.0 0.2,4.0C-1.6,4.0 -3.0,2.8 -3.1,0.9C-3.2,-0.8 -2.9,-2.6 -2.6,-3.9Z" fill="url(#drG)" stroke="#1270b8" stroke-width="0.4"/><ellipse cx="-1.1" cy="-0.3" rx="0.9" ry="1.6" fill="#d9f3ff" opacity="0.75" transform="rotate(-20)"/></g><g transform="translate(15.8,22.8)"><path d="M-2.6,-3.9C-0.5,-2.8 2.9,-0.6 3.0,1.6C3.1,3.4 1.6,4.0 0.2,4.0C-1.6,4.0 -3.0,2.8 -3.1,0.9C-3.2,-0.8 -2.9,-2.6 -2.6,-3.9Z" fill="url(#drG)" stroke="#1270b8" stroke-width="0.4"/><ellipse cx="-1.1" cy="-0.3" rx="0.9" ry="1.6" fill="#d9f3ff" opacity="0.75" transform="rotate(-20)"/></g></g>
<g transform="translate(676.0,94.3)"><path d="M3.30,-12.60L0.00,-27.00L-3.30,-12.60ZM7.41,-10.57L8.53,-20.60L2.23,-12.71ZM11.24,-6.58L19.09,-19.09L6.58,-11.24ZM12.71,-2.23L20.60,-8.53L10.57,-7.41ZM12.60,3.30L27.00,0.00L12.60,-3.30ZM10.57,7.41L20.60,8.53L12.71,2.23ZM6.58,11.24L19.09,19.09L11.24,6.58ZM2.23,12.71L8.53,20.60L7.41,10.57ZM-3.30,12.60L0.00,27.00L3.30,12.60ZM-7.41,10.57L-8.53,20.60L-2.23,12.71ZM-11.24,6.58L-19.09,19.09L-6.58,11.24ZM-12.71,2.23L-20.60,8.53L-10.57,7.41ZM-12.60,-3.30L-27.00,0.00L-12.60,3.30ZM-10.57,-7.41L-20.60,-8.53L-12.71,-2.23ZM-6.58,-11.24L-19.09,-19.09L-11.24,-6.58ZM-2.23,-12.71L-8.53,-20.60L-7.41,-10.57Z" fill="url(#rayG)" stroke="#d8900c" stroke-width="0.4" stroke-linejoin="round"/><circle cx="0" cy="0" r="14.4" fill="url(#sunG)" stroke="#eda30c" stroke-width="0.5"/><g transform="translate(0,-1.2) scale(1,0.96)"><path d="M-10.4,5C-10.6,0 -7,-4.5 -2.7,-4.7C-1.5,-4.7 -0.5,-4.2 0.2,-3.6C2,-6.5 5.5,-7.6 9,-7.5L16.5,-6.9C19.5,-6.6 22,-4.8 22.9,-2.0C26,-1 28.4,1.5 28.3,4.2C28.2,7 26,9.2 23,10C22.5,12.5 20,14.8 17,14.8L-2,14.8C-7,14.8 -10.4,10 -10.4,5Z" transform="translate(0.5,1.0)" fill="#4a4a4a" opacity="0.55" filter="url(#b1)"/><path d="M-10.4,5C-10.6,0 -7,-4.5 -2.7,-4.7C-1.5,-4.7 -0.5,-4.2 0.2,-3.6C2,-6.5 5.5,-7.6 9,-7.5L16.5,-6.9C19.5,-6.6 22,-4.8 22.9,-2.0C26,-1 28.4,1.5 28.3,4.2C28.2,7 26,9.2 23,10C22.5,12.5 20,14.8 17,14.8L-2,14.8C-7,14.8 -10.4,10 -10.4,5Z" fill="url(#clR)" stroke="#9a9a9a" stroke-width="0.4"/></g><g transform="translate(-4.8,12.2)"><path d="M-2.6,-3.9C-0.5,-2.8 2.9,-0.6 3.0,1.6C3.1,3.4 1.6,4.0 0.2,4.0C-1.6,4.0 -3.0,2.8 -3.1,0.9C-3.2,-0.8 -2.9,-2.6 -2.6,-3.9Z" fill="url(#drG)" stroke="#1270b8" stroke-width="0.4"/><ellipse cx="-1.1" cy="-0.3" rx="0.9" ry="1.6" fill="#d9f3ff" opacity="0.75" transform="rotate(-20)"/></g><g transform="translate(8.7,11.9)"><path d="M-2.6,-3.9C-0.5,-2.8 2.9,-0.6 3.0,1.6C3.1,3.4 1.6,4.0 0.2,4.0C-1.6,4.0 -3.0,2.8 -3.1,0.9C-3.2,-0.8 -2.9,-2.6 -2.6,-3.9Z" fill="url(#drG)" stroke="#1270b8" stroke-width="0.4"/><ellipse cx="-1.1" cy="-0.3" rx="0.9" ry="1.6" fill="#d9f3ff" opacity="0.75" transform="rotate(-20)"/></g><g transform="translate(23.0,12.0)"><path d="M-2.6,-3.9C-0.5,-2.8 2.9,-0.6 3.0,1.6C3.1,3.4 1.6,4.0 0.2,4.0C-1.6,4.0 -3.0,2.8 -3.1,0.9C-3.2,-0.8 -2.9,-2.6 -2.6,-3.9Z" fill="url(#drG)" stroke="#1270b8" stroke-width="0.4"/><ellipse cx="-1.1" cy="-0.3" rx="0.9" ry="1.6" fill="#d9f3ff" opacity="0.75" transform="rotate(-20)"/></g><g transform="translate(1.9,22.8)"><path d="M-2.6,-3.9C-0.5,-2.8 2.9,-0.6 3.0,1.6C3.1,3.4 1.6,4.0 0.2,4.0C-1.6,4.0 -3.0,2.8 -3.1,0.9C-3.2,-0.8 -2.9,-2.6 -2.6,-3.9Z" fill="url(#drG)" stroke="#1270b8" stroke-width="0.4"/><ellipse cx="-1.1" cy="-0.3" rx="0.9" ry="1.6" fill="#d9f3ff" opacity="0.75" transform="rotate(-20)"/></g><g transform="translate(15.8,22.8)"><path d="M-2.6,-3.9C-0.5,-2.8 2.9,-0.6 3.0,1.6C3.1,3.4 1.6,4.0 0.2,4.0C-1.6,4.0 -3.0,2.8 -3.1,0.9C-3.2,-0.8 -2.9,-2.6 -2.6,-3.9Z" fill="url(#drG)" stroke="#1270b8" stroke-width="0.4"/><ellipse cx="-1.1" cy="-0.3" rx="0.9" ry="1.6" fill="#d9f3ff" opacity="0.75" transform="rotate(-20)"/></g></g>
<g transform="translate(812.5,94.3)"><path d="M3.30,-12.60L0.00,-27.00L-3.30,-12.60ZM7.41,-10.57L8.53,-20.60L2.23,-12.71ZM11.24,-6.58L19.09,-19.09L6.58,-11.24ZM12.71,-2.23L20.60,-8.53L10.57,-7.41ZM12.60,3.30L27.00,0.00L12.60,-3.30ZM10.57,7.41L20.60,8.53L12.71,2.23ZM6.58,11.24L19.09,19.09L11.24,6.58ZM2.23,12.71L8.53,20.60L7.41,10.57ZM-3.30,12.60L0.00,27.00L3.30,12.60ZM-7.41,10.57L-8.53,20.60L-2.23,12.71ZM-11.24,6.58L-19.09,19.09L-6.58,11.24ZM-12.71,2.23L-20.60,8.53L-10.57,7.41ZM-12.60,-3.30L-27.00,0.00L-12.60,3.30ZM-10.57,-7.41L-20.60,-8.53L-12.71,-2.23ZM-6.58,-11.24L-19.09,-19.09L-11.24,-6.58ZM-2.23,-12.71L-8.53,-20.60L-7.41,-10.57Z" fill="url(#rayG)" stroke="#d8900c" stroke-width="0.4" stroke-linejoin="round"/><circle cx="0" cy="0" r="14.4" fill="url(#sunG)" stroke="#eda30c" stroke-width="0.5"/><g transform="translate(0,-1.2) scale(1,0.96)"><path d="M-10.4,5C-10.6,0 -7,-4.5 -2.7,-4.7C-1.5,-4.7 -0.5,-4.2 0.2,-3.6C2,-6.5 5.5,-7.6 9,-7.5L16.5,-6.9C19.5,-6.6 22,-4.8 22.9,-2.0C26,-1 28.4,1.5 28.3,4.2C28.2,7 26,9.2 23,10C22.5,12.5 20,14.8 17,14.8L-2,14.8C-7,14.8 -10.4,10 -10.4,5Z" transform="translate(0.5,1.0)" fill="#4a4a4a" opacity="0.55" filter="url(#b1)"/><path d="M-10.4,5C-10.6,0 -7,-4.5 -2.7,-4.7C-1.5,-4.7 -0.5,-4.2 0.2,-3.6C2,-6.5 5.5,-7.6 9,-7.5L16.5,-6.9C19.5,-6.6 22,-4.8 22.9,-2.0C26,-1 28.4,1.5 28.3,4.2C28.2,7 26,9.2 23,10C22.5,12.5 20,14.8 17,14.8L-2,14.8C-7,14.8 -10.4,10 -10.4,5Z" fill="url(#clR)" stroke="#9a9a9a" stroke-width="0.4"/></g><g transform="translate(-4.8,12.2)"><path d="M-2.6,-3.9C-0.5,-2.8 2.9,-0.6 3.0,1.6C3.1,3.4 1.6,4.0 0.2,4.0C-1.6,4.0 -3.0,2.8 -3.1,0.9C-3.2,-0.8 -2.9,-2.6 -2.6,-3.9Z" fill="url(#drG)" stroke="#1270b8" stroke-width="0.4"/><ellipse cx="-1.1" cy="-0.3" rx="0.9" ry="1.6" fill="#d9f3ff" opacity="0.75" transform="rotate(-20)"/></g><g transform="translate(8.7,11.9)"><path d="M-2.6,-3.9C-0.5,-2.8 2.9,-0.6 3.0,1.6C3.1,3.4 1.6,4.0 0.2,4.0C-1.6,4.0 -3.0,2.8 -3.1,0.9C-3.2,-0.8 -2.9,-2.6 -2.6,-3.9Z" fill="url(#drG)" stroke="#1270b8" stroke-width="0.4"/><ellipse cx="-1.1" cy="-0.3" rx="0.9" ry="1.6" fill="#d9f3ff" opacity="0.75" transform="rotate(-20)"/></g><g transform="translate(23.0,12.0)"><path d="M-2.6,-3.9C-0.5,-2.8 2.9,-0.6 3.0,1.6C3.1,3.4 1.6,4.0 0.2,4.0C-1.6,4.0 -3.0,2.8 -3.1,0.9C-3.2,-0.8 -2.9,-2.6 -2.6,-3.9Z" fill="url(#drG)" stroke="#1270b8" stroke-width="0.4"/><ellipse cx="-1.1" cy="-0.3" rx="0.9" ry="1.6" fill="#d9f3ff" opacity="0.75" transform="rotate(-20)"/></g><g transform="translate(1.9,22.8)"><path d="M-2.6,-3.9C-0.5,-2.8 2.9,-0.6 3.0,1.6C3.1,3.4 1.6,4.0 0.2,4.0C-1.6,4.0 -3.0,2.8 -3.1,0.9C-3.2,-0.8 -2.9,-2.6 -2.6,-3.9Z" fill="url(#drG)" stroke="#1270b8" stroke-width="0.4"/><ellipse cx="-1.1" cy="-0.3" rx="0.9" ry="1.6" fill="#d9f3ff" opacity="0.75" transform="rotate(-20)"/></g><g transform="translate(15.8,22.8)"><path d="M-2.6,-3.9C-0.5,-2.8 2.9,-0.6 3.0,1.6C3.1,3.4 1.6,4.0 0.2,4.0C-1.6,4.0 -3.0,2.8 -3.1,0.9C-3.2,-0.8 -2.9,-2.6 -2.6,-3.9Z" fill="url(#drG)" stroke="#1270b8" stroke-width="0.4"/><ellipse cx="-1.1" cy="-0.3" rx="0.9" ry="1.6" fill="#d9f3ff" opacity="0.75" transform="rotate(-20)"/></g></g>
<g transform="translate(949.1,94.3)"><path d="M3.30,-12.60L0.00,-27.00L-3.30,-12.60ZM7.41,-10.57L8.53,-20.60L2.23,-12.71ZM11.24,-6.58L19.09,-19.09L6.58,-11.24ZM12.71,-2.23L20.60,-8.53L10.57,-7.41ZM12.60,3.30L27.00,0.00L12.60,-3.30ZM10.57,7.41L20.60,8.53L12.71,2.23ZM6.58,11.24L19.09,19.09L11.24,6.58ZM2.23,12.71L8.53,20.60L7.41,10.57ZM-3.30,12.60L0.00,27.00L3.30,12.60ZM-7.41,10.57L-8.53,20.60L-2.23,12.71ZM-11.24,6.58L-19.09,19.09L-6.58,11.24ZM-12.71,2.23L-20.60,8.53L-10.57,7.41ZM-12.60,-3.30L-27.00,0.00L-12.60,3.30ZM-10.57,-7.41L-20.60,-8.53L-12.71,-2.23ZM-6.58,-11.24L-19.09,-19.09L-11.24,-6.58ZM-2.23,-12.71L-8.53,-20.60L-7.41,-10.57Z" fill="url(#rayG)" stroke="#d8900c" stroke-width="0.4" stroke-linejoin="round"/><circle cx="0" cy="0" r="14.4" fill="url(#sunG)" stroke="#eda30c" stroke-width="0.5"/><g transform="translate(0,-1.2) scale(1,0.96)"><path d="M-10.4,5C-10.6,0 -7,-4.5 -2.7,-4.7C-1.5,-4.7 -0.5,-4.2 0.2,-3.6C2,-6.5 5.5,-7.6 9,-7.5L16.5,-6.9C19.5,-6.6 22,-4.8 22.9,-2.0C26,-1 28.4,1.5 28.3,4.2C28.2,7 26,9.2 23,10C22.5,12.5 20,14.8 17,14.8L-2,14.8C-7,14.8 -10.4,10 -10.4,5Z" transform="translate(0.5,1.0)" fill="#4a4a4a" opacity="0.55" filter="url(#b1)"/><path d="M-10.4,5C-10.6,0 -7,-4.5 -2.7,-4.7C-1.5,-4.7 -0.5,-4.2 0.2,-3.6C2,-6.5 5.5,-7.6 9,-7.5L16.5,-6.9C19.5,-6.6 22,-4.8 22.9,-2.0C26,-1 28.4,1.5 28.3,4.2C28.2,7 26,9.2 23,10C22.5,12.5 20,14.8 17,14.8L-2,14.8C-7,14.8 -10.4,10 -10.4,5Z" fill="url(#clR)" stroke="#9a9a9a" stroke-width="0.4"/></g><g transform="translate(-4.8,12.2)"><path d="M-2.6,-3.9C-0.5,-2.8 2.9,-0.6 3.0,1.6C3.1,3.4 1.6,4.0 0.2,4.0C-1.6,4.0 -3.0,2.8 -3.1,0.9C-3.2,-0.8 -2.9,-2.6 -2.6,-3.9Z" fill="url(#drG)" stroke="#1270b8" stroke-width="0.4"/><ellipse cx="-1.1" cy="-0.3" rx="0.9" ry="1.6" fill="#d9f3ff" opacity="0.75" transform="rotate(-20)"/></g><g transform="translate(8.7,11.9)"><path d="M-2.6,-3.9C-0.5,-2.8 2.9,-0.6 3.0,1.6C3.1,3.4 1.6,4.0 0.2,4.0C-1.6,4.0 -3.0,2.8 -3.1,0.9C-3.2,-0.8 -2.9,-2.6 -2.6,-3.9Z" fill="url(#drG)" stroke="#1270b8" stroke-width="0.4"/><ellipse cx="-1.1" cy="-0.3" rx="0.9" ry="1.6" fill="#d9f3ff" opacity="0.75" transform="rotate(-20)"/></g><g transform="translate(23.0,12.0)"><path d="M-2.6,-3.9C-0.5,-2.8 2.9,-0.6 3.0,1.6C3.1,3.4 1.6,4.0 0.2,4.0C-1.6,4.0 -3.0,2.8 -3.1,0.9C-3.2,-0.8 -2.9,-2.6 -2.6,-3.9Z" fill="url(#drG)" stroke="#1270b8" stroke-width="0.4"/><ellipse cx="-1.1" cy="-0.3" rx="0.9" ry="1.6" fill="#d9f3ff" opacity="0.75" transform="rotate(-20)"/></g><g transform="translate(1.9,22.8)"><path d="M-2.6,-3.9C-0.5,-2.8 2.9,-0.6 3.0,1.6C3.1,3.4 1.6,4.0 0.2,4.0C-1.6,4.0 -3.0,2.8 -3.1,0.9C-3.2,-0.8 -2.9,-2.6 -2.6,-3.9Z" fill="url(#drG)" stroke="#1270b8" stroke-width="0.4"/><ellipse cx="-1.1" cy="-0.3" rx="0.9" ry="1.6" fill="#d9f3ff" opacity="0.75" transform="rotate(-20)"/></g><g transform="translate(15.8,22.8)"><path d="M-2.6,-3.9C-0.5,-2.8 2.9,-0.6 3.0,1.6C3.1,3.4 1.6,4.0 0.2,4.0C-1.6,4.0 -3.0,2.8 -3.1,0.9C-3.2,-0.8 -2.9,-2.6 -2.6,-3.9Z" fill="url(#drG)" stroke="#1270b8" stroke-width="0.4"/><ellipse cx="-1.1" cy="-0.3" rx="0.9" ry="1.6" fill="#d9f3ff" opacity="0.75" transform="rotate(-20)"/></g></g>
</svg></body></html>
